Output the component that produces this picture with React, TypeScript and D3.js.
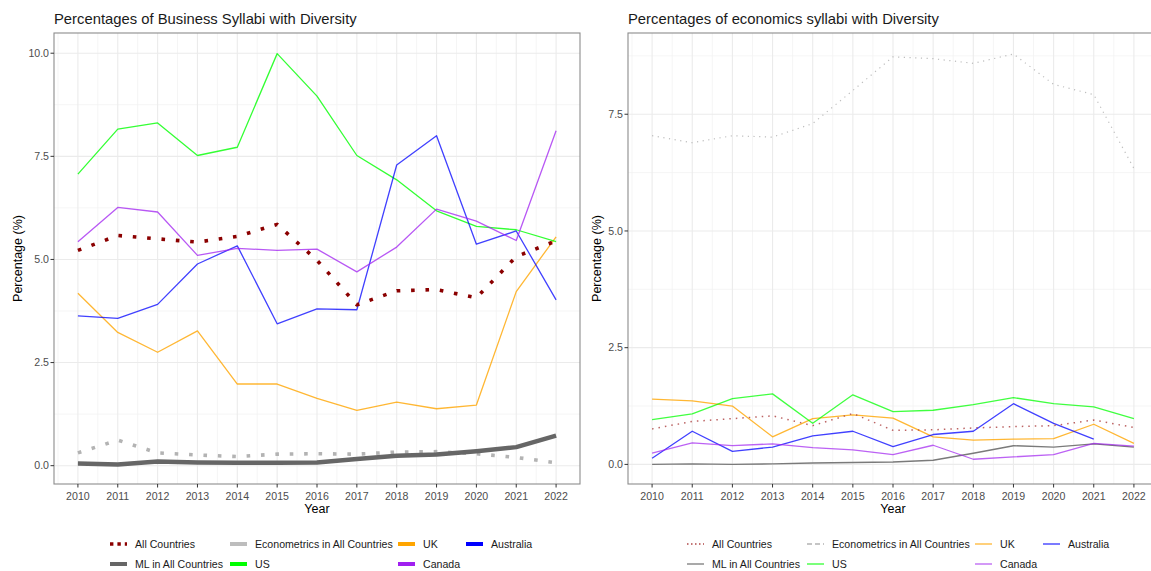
import React from 'react';
import * as d3 from 'd3';

const years = [2010, 2011, 2012, 2013, 2014, 2015, 2016, 2017, 2018, 2019, 2020, 2021, 2022];

// Business syllabi
const bizAll = [5.22, 5.58, 5.5, 5.42, 5.56, 5.85, 4.98, 3.9, 4.24, 4.27, 4.07, 5.07, 5.45];
const bizEconometrics = [0.31, 0.62, 0.31, 0.26, 0.22, 0.28, 0.29, 0.28, 0.33, 0.34, 0.29, 0.2, 0.07];
const bizML = [0.05, 0.03, 0.1, 0.08, 0.07, 0.07, 0.08, 0.16, 0.24, 0.27, 0.35, 0.45, 0.73];
const bizUK = [4.18, 3.23, 2.75, 3.27, 1.98, 1.98, 1.63, 1.34, 1.54, 1.38, 1.47, 4.22, 5.55];
const bizUS = [7.07, 8.16, 8.31, 7.52, 7.72, 9.99, 8.96, 7.52, 6.93, 6.18, 5.8, 5.72, 5.43];
const bizAustralia = [3.63, 3.57, 3.91, 4.89, 5.33, 3.44, 3.8, 3.78, 7.29, 8.0, 5.37, 5.69, 4.02];
const bizCanada = [5.43, 6.26, 6.15, 5.1, 5.27, 5.22, 5.25, 4.7, 5.3, 6.22, 5.93, 5.46, 8.12];

// Economics syllabi
const ecoAll = [0.76, 0.92, 0.98, 1.04, 0.83, 1.09, 0.73, 0.74, 0.78, 0.81, 0.83, 0.95, 0.79];
const ecoEconometrics = [7.04, 6.89, 7.04, 7.01, 7.3, 8.01, 8.73, 8.69, 8.59, 8.79, 8.14, 7.92, 6.34];
const ecoML = [0.0, 0.01, 0.0, 0.01, 0.03, 0.04, 0.05, 0.09, 0.24, 0.4, 0.37, 0.44, 0.37];
const ecoUK = [1.4, 1.36, 1.25, 0.59, 0.98, 1.06, 0.99, 0.59, 0.52, 0.54, 0.55, 0.86, 0.45];
const ecoUS = [0.96, 1.08, 1.41, 1.51, 0.88, 1.49, 1.13, 1.16, 1.28, 1.43, 1.3, 1.23, 0.98];
const ecoAustralia: (number | null)[] = [0.13, 0.71, 0.28, 0.37, 0.61, 0.71, 0.38, 0.64, 0.71, 1.3, 0.88, 0.54, null];
const ecoCanada = [0.24, 0.46, 0.4, 0.44, 0.36, 0.31, 0.21, 0.41, 0.11, 0.16, 0.21, 0.45, 0.39];

const yTicks = [0, 2.5, 5, 7.5, 10];
const yMinor = [1.25, 3.75, 6.25, 8.75];

const FONT = '"Liberation Sans", Arial, Helvetica, sans-serif';

type Series = {
  name: string;
  values: (number | null)[];
  color: string;
  width: number;
  dash?: string;
  opacity?: number;
};

type PanelProps = {
  title: string;
  series: Series[];
  x0: number;
  x1: number;
  y0: number;
  y1: number;
  yDomain: [number, number];
  titleX: number;
  yTitleX: number;
};

function Panel({ title, series, x0, x1, y0, y1, yDomain, titleX, yTitleX }: PanelProps) {
  const x = d3.scaleLinear().domain([2009.4, 2022.6]).range([x0, x1]);
  const y = d3.scaleLinear().domain(yDomain).range([y1, y0]);
  const ticks = yTicks.filter((t) => t >= yDomain[0] && t <= yDomain[1]);
  const minors = yMinor.filter((t) => t >= yDomain[0] && t <= yDomain[1]);
  const xMinor = years.slice(0, -1).map((v) => v + 0.5).concat([2009.5]);
  const line = d3
    .line<number | null>()
    .defined((d) => d !== null)
    .x((_, i) => x(years[i]))
    .y((d) => y(d as number));
  const clipId = 'clip' + Math.round(x0);
  return (
    <g>
      <text x={titleX} y={24} fontSize={14.8} fill="#1a1a1a" fontFamily={FONT}>
        {title}
      </text>
      <defs>
        <clipPath id={clipId}>
          <rect x={x0} y={y0} width={x1 - x0} height={y1 - y0} />
        </clipPath>
      </defs>
      <rect x={x0} y={y0} width={x1 - x0} height={y1 - y0} fill="#ffffff" />
      {minors.map((t) => (
        <line key={'ym' + t} x1={x0} x2={x1} y1={y(t)} y2={y(t)} stroke="#f2f2f2" strokeWidth={0.8} />
      ))}
      {xMinor.map((t) => (
        <line key={'xm' + t} x1={x(t)} x2={x(t)} y1={y0} y2={y1} stroke="#f2f2f2" strokeWidth={0.8} />
      ))}
      {ticks.map((t) => (
        <line key={'yg' + t} x1={x0} x2={x1} y1={y(t)} y2={y(t)} stroke="#ebebeb" strokeWidth={1.1} />
      ))}
      {years.map((t) => (
        <line key={'xg' + t} x1={x(t)} x2={x(t)} y1={y0} y2={y1} stroke="#ebebeb" strokeWidth={1.1} />
      ))}
      <g clipPath={`url(#${clipId})`}>
        {series.map((s) => (
          <path
            key={s.name}
            d={line(s.values) || ''}
            fill="none"
            stroke={s.color}
            strokeWidth={s.width}
            strokeDasharray={s.dash}
            strokeOpacity={s.opacity ?? 1}
            strokeLinejoin="round"
          />
        ))}
      </g>
      <rect x={x0} y={y0} width={x1 - x0} height={y1 - y0} fill="none" stroke="#8c8c8c" strokeWidth={1.1} />
      {ticks.map((t) => (
        <g key={'yt' + t}>
          <line x1={x0 - 3.5} x2={x0} y1={y(t)} y2={y(t)} stroke="#333" strokeWidth={1} />
          <text x={x0 - 5} y={y(t)} dy="0.35em" textAnchor="end" fontSize={10.6} fill="#4d4d4d" fontFamily={FONT}>
            {t.toFixed(1)}
          </text>
        </g>
      ))}
      {years.map((t) => (
        <g key={'xt' + t}>
          <line x1={x(t)} x2={x(t)} y1={y1} y2={y1 + 3.5} stroke="#333" strokeWidth={1} />
          <text x={x(t)} y={500} textAnchor="middle" fontSize={10.6} fill="#4d4d4d" fontFamily={FONT}>
            {t}
          </text>
        </g>
      ))}
      <text x={(x0 + x1) / 2} y={513} textAnchor="middle" fontSize={12.5} fill="#000" fontFamily={FONT}>
        Year
      </text>
      <text
        transform={`translate(${yTitleX},${(y0 + y1) / 2}) rotate(-90)`}
        textAnchor="middle"
        fontSize={12.5}
        fill="#000"
        fontFamily={FONT}
      >
        Percentage (%)
      </text>
    </g>
  );
}

type LegendItem = { label: string; color: string; width: number; dash?: string; opacity?: number; kx: number; row: number };

function Legend({ items }: { items: LegendItem[] }) {
  return (
    <g>
      {items.map((it) => {
        const cy = it.row === 0 ? 544 : 564;
        return (
          <g key={it.label}>
            <line
              x1={it.kx}
              x2={it.kx + 17}
              y1={cy}
              y2={cy}
              stroke={it.color}
              strokeWidth={it.width}
              strokeDasharray={it.dash}
              strokeOpacity={it.opacity ?? 1}
            />
            <text x={it.kx + 25} y={cy} dy="0.35em" fontSize={10.6} fill="#1a1a1a" fontFamily={FONT}>
              {it.label}
            </text>
          </g>
        );
      })}
    </g>
  );
}

export default function App() {
  const leftSeries: Series[] = [
    { name: 'Econometrics', values: bizEconometrics, color: '#b3b3b3', width: 3.6, dash: '3.6 10.8' },
    { name: 'ML', values: bizML, color: '#666666', width: 4.5 },
    { name: 'UK', values: bizUK, color: '#ffa500', width: 1.3, opacity: 0.8 },
    { name: 'US', values: bizUS, color: '#00ff00', width: 1.3, opacity: 0.8 },
    { name: 'Australia', values: bizAustralia, color: '#0000ff', width: 1.3, opacity: 0.75 },
    { name: 'Canada', values: bizCanada, color: '#a020f0', width: 1.3, opacity: 0.75 },
    { name: 'All', values: bizAll, color: '#8b0000', width: 3.6, dash: '3.6 10.8' },
  ];
  const rightSeries: Series[] = [
    { name: 'Econometrics', values: ecoEconometrics, color: '#bdbdbd', width: 1.2, dash: '1.2 4.5' },
    { name: 'ML', values: ecoML, color: '#7a7a7a', width: 1.4 },
    { name: 'UK', values: ecoUK, color: '#ffa500', width: 1.3, opacity: 0.8 },
    { name: 'US', values: ecoUS, color: '#00ff00', width: 1.3, opacity: 0.75 },
    { name: 'Australia', values: ecoAustralia, color: '#0000ff', width: 1.3, opacity: 0.75 },
    { name: 'Canada', values: ecoCanada, color: '#a020f0', width: 1.3, opacity: 0.7 },
    { name: 'All', values: ecoAll, color: '#b04848', width: 1.5, dash: '1.5 5', opacity: 0.85 },
  ];

  const leftLegend: LegendItem[] = [
    { label: 'All Countries', color: '#8b0000', width: 3.4, dash: '3.4 4', kx: 110, row: 0 },
    { label: 'ML in All Countries', color: '#666666', width: 4, kx: 110, row: 1 },
    { label: 'Econometrics in All Countries', color: '#bdbdbd', width: 4, kx: 230, row: 0 },
    { label: 'US', color: '#00ff00', width: 4, kx: 230, row: 1 },
    { label: 'UK', color: '#ffa500', width: 4, kx: 398, row: 0 },
    { label: 'Canada', color: '#a020f0', width: 4, kx: 398, row: 1 },
    { label: 'Australia', color: '#0000ff', width: 4, kx: 466, row: 0 },
  ];
  const rightLegend: LegendItem[] = [
    { label: 'All Countries', color: '#b04848', width: 1.3, dash: '1.5 2.5', kx: 687, row: 0 },
    { label: 'ML in All Countries', color: '#7a7a7a', width: 1.3, kx: 687, row: 1 },
    { label: 'Econometrics in All Countries', color: '#b3b3b3', width: 1.3, dash: '5 3', kx: 807, row: 0 },
    { label: 'US', color: '#00ff00', width: 1.3, opacity: 0.8, kx: 807, row: 1 },
    { label: 'UK', color: '#ffa500', width: 1.3, opacity: 0.8, kx: 975, row: 0 },
    { label: 'Canada', color: '#a020f0', width: 1.3, opacity: 0.7, kx: 975, row: 1 },
    { label: 'Australia', color: '#0000ff', width: 1.3, opacity: 0.8, kx: 1043, row: 0 },
  ];

  return (
    <div style={{ position: 'absolute', left: 0, top: 0 }}>
      <svg width={1151} height={571} style={{ display: 'block', background: '#fff' }}>
        <rect x={0} y={0} width={1151} height={571} fill="#ffffff" />
        <Panel
          title="Percentages of Business Syllabi with Diversity"
          series={leftSeries}
          x0={54}
          x1={580}
          y0={33}
          y1={484}
          yDomain={[-0.444, 10.49]}
          titleX={54}
          yTitleX={22}
        />
        <Panel
          title="Percentages of economics syllabi with Diversity"
          series={rightSeries}
          x0={628}
          x1={1158}
          y0={33}
          y1={484}
          yDomain={[-0.42, 9.24]}
          titleX={628}
          yTitleX={601}
        />
        <Legend items={leftLegend} />
        <Legend items={rightLegend} />
      </svg>
    </div>
  );
}
